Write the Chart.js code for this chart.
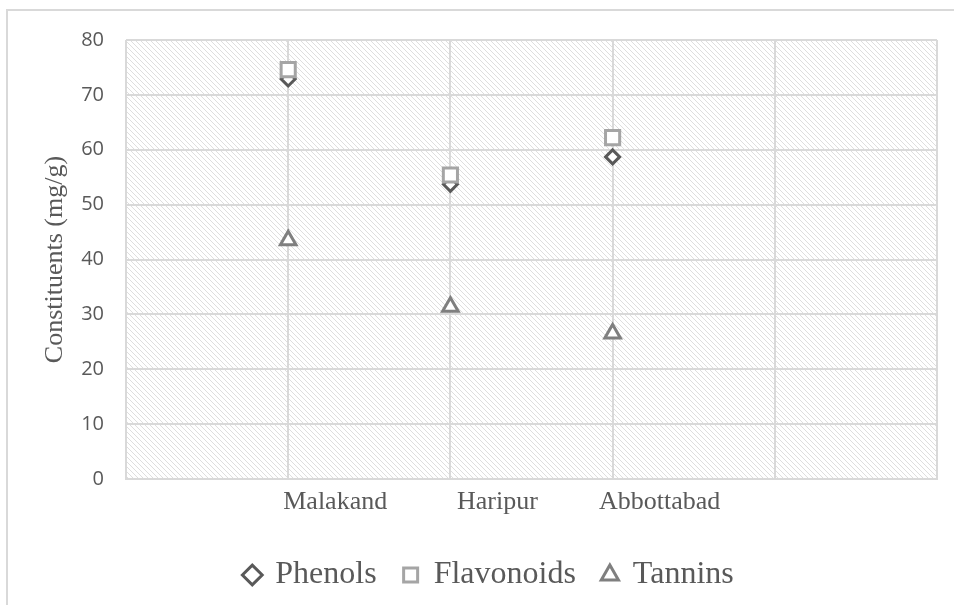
<!DOCTYPE html>
<html>
<head>
<meta charset="utf-8">
<script src="https://cdn.jsdelivr.net/npm/chart.js@4/dist/chart.umd.min.js"></script>
<style>
  body { margin: 0; background: #fff; }
  #wrap { width: 954px; height: 605px; }
</style>
</head>
<body>
<div id="wrap"><canvas id="chart" width="954" height="605"></canvas></div>
<script>
// ------------------- data -------------------
const categories = ["Malakand", "Haripur", "Abbottabad"];
const phenols = [72.9, 53.7, 58.7];
const flavonoids = [74.6, 55.4, 62.2];
const tannins = [43.5, 31.4, 26.5];
const yTicks = [0, 10, 20, 30, 40, 50, 60, 70, 80];

const serif = "'Liberation Serif', 'Times New Roman', serif";
const sans = "'Open Sans', 'Noto Sans', sans-serif";
const textGrey = "#595959";
const gridGrey = "#d9d9d9";

// put each value on its category slot (1, 2, 3 on the x scale)
function toPoints(values) {
  return values.map((v, i) => ({ x: i + 1, y: v }));
}

// diagonal hatch used to fill the plot area
function makeHatch() {
  const c = document.createElement("canvas");
  c.width = 5;
  c.height = 5;
  const g = c.getContext("2d");
  g.strokeStyle = "#dedede";
  g.lineWidth = 1;
  g.beginPath();
  g.moveTo(-1, -1); g.lineTo(6, 6);
  g.moveTo(-1, 4); g.lineTo(1, 6);
  g.moveTo(4, -1); g.lineTo(6, 1);
  g.stroke();
  return c;
}

const background = {
  id: "background",
  afterLayout(chart) {
    // nudge the legend row a little to the right
    chart.legend.left += 21;
    chart.legend.right += 21;
  },
  beforeDraw(chart) {
    const ctx = chart.ctx;
    const a = chart.chartArea;
    ctx.save();
    // outer frame, left and top edges
    ctx.strokeStyle = gridGrey;
    ctx.lineWidth = 2;
    ctx.beginPath();
    ctx.moveTo(7, chart.height);
    ctx.lineTo(7, 10);
    ctx.lineTo(chart.width, 10);
    ctx.stroke();
    // hatched plot area
    ctx.fillStyle = ctx.createPattern(makeHatch(), "repeat");
    ctx.fillRect(a.left, a.top, a.right - a.left, a.bottom - a.top);
    ctx.restore();
  }
};

new Chart(document.getElementById("chart"), {
  type: "scatter",
  data: {
    datasets: [
      {
        label: "Phenols",
        data: toPoints(phenols),
        order: 3,
        pointStyle: "rectRot",
        pointRadius: 7,
        pointHoverRadius: 7,
        borderWidth: 3,
        borderColor: "#595959",
        backgroundColor: "#ffffff"
      },
      {
        label: "Flavonoids",
        data: toPoints(flavonoids),
        order: 2,
        pointStyle: "rect",
        pointRadius: 10,
        pointHoverRadius: 10,
        borderWidth: 3,
        borderColor: "#a5a5a5",
        backgroundColor: "#ffffff"
      },
      {
        label: "Tannins",
        data: toPoints(tannins),
        order: 1,
        pointStyle: "triangle",
        pointRadius: 9,
        pointHoverRadius: 9,
        borderWidth: 3,
        borderColor: "#7f7f7f",
        backgroundColor: "#ffffff"
      }
    ]
  },
  options: {
    responsive: false,
    animation: false,
    layout: { padding: { top: 40, right: 17, left: 0, bottom: 4 } },
    plugins: {
      tooltip: { enabled: false },
      legend: {
        position: "bottom",
        labels: {
          usePointStyle: true,
          boxHeight: 14,
          boxWidth: 14,
          padding: 27,
          color: textGrey,
          font: { family: serif, size: 32 },
          sort: (a, b) => a.datasetIndex - b.datasetIndex
        }
      }
    },
    scales: {
      x: {
        type: "linear",
        min: 0,
        max: 5,
        afterFit: s => { s.height = 53; },
        grid: { color: gridGrey, lineWidth: 2, drawTicks: false },
        border: { color: gridGrey, width: 2 },
        ticks: {
          stepSize: 1,
          padding: 8,
          labelOffset: 47,
          color: textGrey,
          font: { family: serif, size: 26 },
          callback: v => categories[v - 1] || ""
        }
      },
      y: {
        min: 0,
        max: 80,
        afterFit: s => { s.width = 126; },
        afterBuildTicks: s => { s.ticks = yTicks.map(v => ({ value: v })); },
        grid: { color: gridGrey, lineWidth: 2, drawTicks: false },
        border: { display: false },
        ticks: {
          padding: 22,
          color: textGrey,
          font: { family: sans, size: 20 }
        },
        title: {
          display: true,
          text: "Constituents (mg/g)",
          color: textGrey,
          padding: { top: 40, bottom: 0 },
          font: { family: serif, size: 26 }
        }
      }
    }
  },
  plugins: [background]
});
</script>
</body>
</html>
